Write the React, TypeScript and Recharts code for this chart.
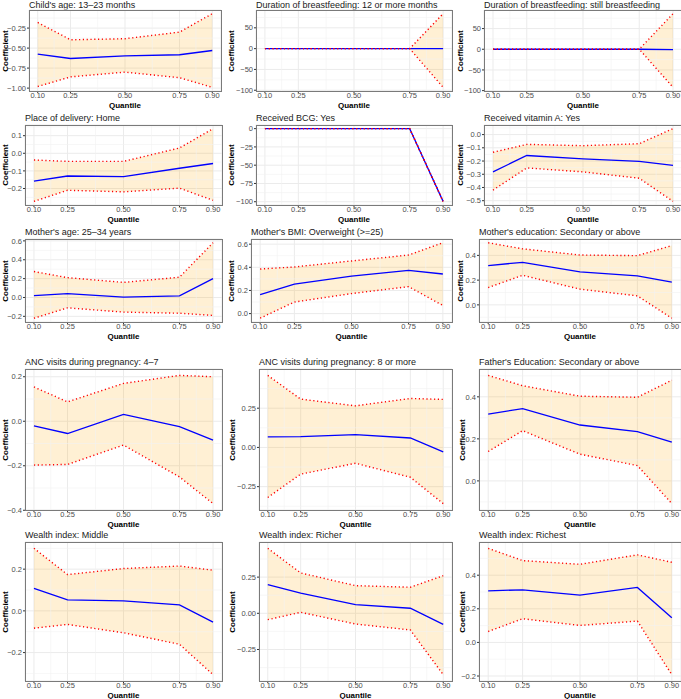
import React from "react";
import {
  ComposedChart,
  Area,
  Line,
  XAxis,
  YAxis,
  CartesianGrid,
  ReferenceLine,
} from "recharts";

// quantile grid shared by every panel
const QUANTILES = [0.1, 0.25, 0.5, 0.75, 0.9];
const X_TICKS = [0.1, 0.25, 0.5, 0.75, 0.9];
const X_MINOR = [0.175, 0.375, 0.625, 0.825];

// coefficient estimates + lower / upper confidence bounds
const CHILD_AGE_COEF = [-0.575, -0.63, -0.596, -0.583, -0.53];
const CHILD_AGE_LO = [-0.98, -0.86, -0.8, -0.87, -0.99];
const CHILD_AGE_HI = [-0.18, -0.396, -0.383, -0.3, -0.07];

const BF12_COEF = [0, 0, 0, 0, 0];
const BF12_LO = [0, 0, 0, 0, -93];
const BF12_HI = [0, 0, 0, 0, 84];

const BFSTILL_COEF = [0, 0, 0, 0, -1];
const BFSTILL_LO = [0, 0, 0, 0, -92];
const BFSTILL_HI = [0, 0, 0, 0, 86];

const PLACE_COEF = [-0.158, -0.129, -0.133, -0.085, -0.058];
const PLACE_LO = [-0.273, -0.21, -0.219, -0.198, -0.267];
const PLACE_HI = [-0.038, -0.046, -0.046, 0.03, 0.14];

const BCG_COEF = [0, 0, 0, 0, -99.5];
const BCG_LO = [0, 0, 0, 0, -99.5];
const BCG_HI = [0, 0, 0, 0, -99.5];

const VITA_COEF = [-0.282, -0.158, -0.183, -0.203, -0.233];
const VITA_LO = [-0.42, -0.252, -0.282, -0.33, -0.505];
const VITA_HI = [-0.134, -0.074, -0.084, -0.069, 0.045];

const MAGE_COEF = [0.02, 0.04, 0.004, 0.018, 0.2];
const MAGE_LO = [-0.22, -0.11, -0.155, -0.167, -0.19];
const MAGE_HI = [0.275, 0.21, 0.16, 0.215, 0.58];

const BMI_COEF = [0.164, 0.255, 0.324, 0.373, 0.342];
const BMI_LO = [-0.04, 0.1, 0.173, 0.233, 0.07];
const BMI_HI = [0.385, 0.403, 0.455, 0.506, 0.612];

const MEDU_COEF = [0.318, 0.344, 0.266, 0.234, 0.184];
const MEDU_LO = [0.14, 0.239, 0.127, 0.073, -0.108];
const MEDU_HI = [0.502, 0.453, 0.403, 0.398, 0.479];

const ANC47_COEF = [-0.021, -0.055, 0.031, -0.024, -0.085];
const ANC47_LO = [-0.197, -0.194, -0.107, -0.25, -0.37];
const ANC47_HI = [0.154, 0.087, 0.17, 0.206, 0.2];

const ANC8_COEF = [0.067, 0.069, 0.082, 0.06, -0.028];
const ANC8_LO = [-0.319, -0.17, -0.101, -0.19, -0.358];
const ANC8_HI = [0.459, 0.308, 0.265, 0.312, 0.306];

const FEDU_COEF = [0.318, 0.344, 0.266, 0.234, 0.184];
const FEDU_LO = [0.14, 0.239, 0.127, 0.073, -0.108];
const FEDU_HI = [0.502, 0.453, 0.403, 0.398, 0.479];

const MIDDLE_COEF = [0.108, 0.053, 0.048, 0.029, -0.054];
const MIDDLE_LO = [-0.083, -0.065, -0.105, -0.16, -0.306];
const MIDDLE_HI = [0.3, 0.174, 0.203, 0.215, 0.195];

const RICHER_COEF = [0.198, 0.14, 0.06, 0.035, -0.076];
const RICHER_LO = [-0.044, 0.007, -0.074, -0.115, -0.424];
const RICHER_HI = [0.449, 0.279, 0.191, 0.18, 0.26];

const RICHEST_COEF = [0.307, 0.313, 0.281, 0.327, 0.147];
const RICHEST_LO = [0.065, 0.141, 0.101, 0.127, -0.192];
const RICHEST_HI = [0.56, 0.487, 0.465, 0.521, 0.477];

// y tick labels per panel
const TICKS_CHILD_AGE = [-1, -0.75, -0.5, -0.25];
const TICKS_BF = [-100, -50, 0, 50];
const TICKS_PLACE = [-0.2, -0.1, 0, 0.1];
const TICKS_BCG = [-100, -75, -50, -25, 0];
const TICKS_VITA = [-0.5, -0.4, -0.3, -0.2, -0.1, 0];
const TICKS_MAGE = [-0.2, 0, 0.2, 0.4, 0.6];
const TICKS_BMI = [0, 0.2, 0.4, 0.6];
const TICKS_EDU = [0, 0.2, 0.4];
const TICKS_ANC47 = [-0.4, -0.2, 0, 0.2];
const TICKS_QUARTER = [-0.25, 0, 0.25];
const TICKS_MIDDLE = [-0.2, 0, 0.2];
const TICKS_RICHEST = [-0.2, 0, 0.2, 0.4];

type Box = { x: number; y: number; w: number; h: number; lx: number };

type PanelDef = {
  title: string;
  coef: number[];
  lo: number[];
  hi: number[];
  ticks: number[];
  digits: number;
  box: Box;
};

// panel frames (plot area) — layout only
const PANELS: PanelDef[] = [
  { title: "Child's age: 13\u201323 months", coef: CHILD_AGE_COEF, lo: CHILD_AGE_LO, hi: CHILD_AGE_HI, ticks: TICKS_CHILD_AGE, digits: 2, box: { x: 29, y: 10, w: 192, h: 81, lx: 5 } },
  { title: "Duration of breastfeeding: 12 or more months", coef: BF12_COEF, lo: BF12_LO, hi: BF12_HI, ticks: TICKS_BF, digits: 0, box: { x: 256, y: 10, w: 196, h: 81, lx: 231 } },
  { title: "Duration of breastfeeding: still breastfeeding", coef: BFSTILL_COEF, lo: BFSTILL_LO, hi: BFSTILL_HI, ticks: TICKS_BF, digits: 0, box: { x: 484, y: 10, w: 198, h: 81, lx: 460 } },
  { title: "Place of delivery: Home", coef: PLACE_COEF, lo: PLACE_LO, hi: PLACE_HI, ticks: TICKS_PLACE, digits: 1, box: { x: 25, y: 125, w: 197, h: 80, lx: 5 } },
  { title: "Received BCG: Yes", coef: BCG_COEF, lo: BCG_LO, hi: BCG_HI, ticks: TICKS_BCG, digits: 0, box: { x: 256, y: 125, w: 196, h: 80, lx: 231 } },
  { title: "Received vitamin A: Yes", coef: VITA_COEF, lo: VITA_LO, hi: VITA_HI, ticks: TICKS_VITA, digits: 1, box: { x: 484, y: 125, w: 198, h: 80, lx: 460 } },
  { title: "Mother's age: 25\u201334 years", coef: MAGE_COEF, lo: MAGE_LO, hi: MAGE_HI, ticks: TICKS_MAGE, digits: 1, box: { x: 25, y: 239, w: 197, h: 83, lx: 5 } },
  { title: "Mother's BMI: Overweight (>=25)", coef: BMI_COEF, lo: BMI_LO, hi: BMI_HI, ticks: TICKS_BMI, digits: 1, box: { x: 251, y: 239, w: 201, h: 83, lx: 231 } },
  { title: "Mother's education: Secondary or above", coef: MEDU_COEF, lo: MEDU_LO, hi: MEDU_HI, ticks: TICKS_EDU, digits: 1, box: { x: 479, y: 239, w: 202, h: 83, lx: 460 } },
  { title: "ANC visits during pregnancy: 4\u20137", coef: ANC47_COEF, lo: ANC47_LO, hi: ANC47_HI, ticks: TICKS_ANC47, digits: 1, box: { x: 25, y: 369, w: 197, h: 141, lx: 5 } },
  { title: "ANC visits during pregnancy: 8 or more", coef: ANC8_COEF, lo: ANC8_LO, hi: ANC8_HI, ticks: TICKS_QUARTER, digits: 2, box: { x: 259, y: 369, w: 193, h: 141, lx: 232 } },
  { title: "Father's Education: Secondary or above", coef: FEDU_COEF, lo: FEDU_LO, hi: FEDU_HI, ticks: TICKS_EDU, digits: 1, box: { x: 479, y: 369, w: 202, h: 141, lx: 462 } },
  { title: "Wealth index: Middle", coef: MIDDLE_COEF, lo: MIDDLE_LO, hi: MIDDLE_HI, ticks: TICKS_MIDDLE, digits: 1, box: { x: 25, y: 542, w: 197, h: 139, lx: 5 } },
  { title: "Wealth index: Richer", coef: RICHER_COEF, lo: RICHER_LO, hi: RICHER_HI, ticks: TICKS_QUARTER, digits: 2, box: { x: 259, y: 542, w: 193, h: 139, lx: 232 } },
  { title: "Wealth index: Richest", coef: RICHEST_COEF, lo: RICHEST_LO, hi: RICHEST_HI, ticks: TICKS_RICHEST, digits: 1, box: { x: 479, y: 542, w: 202, h: 139, lx: 462 } },
];

const FONT = "'Liberation Sans', Arial, Helvetica, sans-serif";
const YW = 40;
const XH = 14;
const TOP = 6;

function fmt(v: number, digits: number) {
  const s = Math.abs(v).toFixed(digits);
  return v < -1e-9 ? "\u2212" + s : s;
}

function Panel({ p }: { p: PanelDef }) {
  const { box } = p;
  const rows = QUANTILES.map((q, i) => ({
    q,
    coef: p.coef[i],
    lo: p.lo[i],
    hi: p.hi[i],
    band: [p.lo[i], p.hi[i]],
  }));
  // ggplot-like 5% expansion
  const mn = Math.min(...p.lo);
  const mx = Math.max(...p.hi);
  const pad = (mx - mn) * 0.05;
  const domain: [number, number] = [mn - pad, mx + pad];
  const step = p.ticks[1] - p.ticks[0];
  const yMinor = [p.ticks[0] - step / 2, ...p.ticks.map((t) => t + step / 2)].filter(
    (v) => v > domain[0] && v < domain[1],
  );

  return (
    <>
      <div
        style={{
          position: "absolute",
          left: box.x,
          top: Math.max(0, box.y - 12),
          fontSize: 9,
          lineHeight: "10px",
          color: "#1a1a1a",
          whiteSpace: "nowrap",
        }}
      >
        {p.title}
      </div>
      <div style={{ position: "absolute", left: box.x - YW, top: box.y - TOP }}>
        <ComposedChart
          width={box.w + YW}
          height={box.h + XH + TOP}
          data={rows}
          margin={{ top: TOP, right: 0, bottom: 0, left: 0 }}
        >
          <XAxis
            type="number"
            dataKey="q"
            domain={[0.06, 0.94]}
            ticks={X_TICKS}
            interval={0}
            height={XH}
            axisLine={false}
            tickLine={{ stroke: "#333" }}
            tickSize={2}
            tickMargin={0}
            tick={{ fontSize: 7.5, fill: "#4d4d4d" }}
            tickFormatter={(v: number) => v.toFixed(2)}
          />
          <YAxis
            type="number"
            domain={domain}
            ticks={p.ticks}
            interval={0}
            width={YW}
            allowDataOverflow
            axisLine={false}
            tickLine={{ stroke: "#333" }}
            tickSize={2}
            tickMargin={1}
            tick={{ fontSize: 7.5, fill: "#4d4d4d" }}
            tickFormatter={(v: number) => fmt(v, p.digits)}
          />
          {X_MINOR.map((x) => (
            <ReferenceLine key={"mx" + x} x={x} stroke="#f2f2f2" strokeWidth={0.6} />
          ))}
          {yMinor.map((y) => (
            <ReferenceLine key={"my" + y} y={y} stroke="#f2f2f2" strokeWidth={0.6} />
          ))}
          <CartesianGrid stroke="#ebebeb" strokeWidth={1} />
          <Area
            type="linear"
            dataKey="band"
            stroke="none"
            fill="#ffa500"
            fillOpacity={0.17}
            isAnimationActive={false}
          />
          <Line
            type="linear"
            dataKey="coef"
            stroke="#0000ff"
            strokeWidth={1.3}
            dot={false}
            isAnimationActive={false}
          />
          <Line
            type="linear"
            dataKey="lo"
            stroke="#ff0000"
            strokeWidth={1.4}
            strokeDasharray="1.2 2.6"
            dot={false}
            isAnimationActive={false}
          />
          <Line
            type="linear"
            dataKey="hi"
            stroke="#ff0000"
            strokeWidth={1.4}
            strokeDasharray="1.2 2.6"
            dot={false}
            isAnimationActive={false}
          />
        </ComposedChart>
      </div>
      <div
        style={{
          position: "absolute",
          left: box.x,
          top: box.y,
          width: box.w - 1,
          height: box.h - 1,
          border: "1px solid #7a7a7a",
          pointerEvents: "none",
        }}
      />
      <div
        style={{
          position: "absolute",
          left: box.x + box.w / 2,
          top: box.y + box.h + 14,
          transform: "translate(-50%, -50%)",
          fontSize: 8,
          lineHeight: "9px",
          fontWeight: "bold",
          color: "#000",
          whiteSpace: "nowrap",
        }}
      >
        Quantile
      </div>
      <div
        style={{
          position: "absolute",
          left: box.lx,
          top: box.y + box.h / 2,
          transform: "translate(-50%, -50%) rotate(-90deg)",
          fontSize: 8,
          lineHeight: "9px",
          fontWeight: "bold",
          color: "#000",
          whiteSpace: "nowrap",
        }}
      >
        Coefficient
      </div>
    </>
  );
}

export default function App() {
  return (
    <div
      style={{
        position: "absolute",
        left: 0,
        top: 0,
        width: 681,
        height: 699,
        overflow: "hidden",
        background: "#fff",
        fontFamily: FONT,
      }}
    >
      {PANELS.map((p, i) => (
        <Panel key={i} p={p} />
      ))}
    </div>
  );
}
